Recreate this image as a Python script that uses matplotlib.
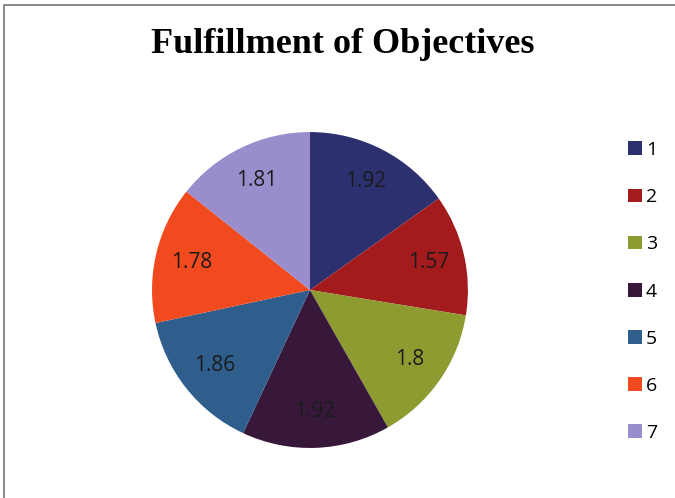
import matplotlib.pyplot as plt
from matplotlib.patches import Rectangle

# valores de cada objetivo
labels = ['1', '2', '3', '4', '5', '6', '7']
values = [1.92, 1.57, 1.8, 1.92, 1.86, 1.78, 1.81]
value_text = ['1.92', '1.57', '1.8', '1.92', '1.86', '1.78', '1.81']
colors = ['#2c306f', '#a41b1e', '#8d9b30', '#37183a', '#2f5e8d', '#f04a1e', '#9a8dcb']

fig = plt.figure(figsize=(6.75, 4.98), dpi=100)

# marco exterior del gráfico
fig.patches.append(Rectangle((0.006, -0.01), 1.2, 1.0, transform=fig.transFigure,
                             fill=False, edgecolor='#777777', lw=1.2))

fig.text(0.508, 0.91, 'Fulfillment of Objectives', ha='center', va='center',
         fontsize=26, fontweight='bold', family='Liberation Serif')

ax = fig.add_axes([0.2252, 0.1004, 0.468, 0.6345])
wedges, texts = ax.pie(values, colors=colors, startangle=90, counterclock=False,
                       labels=value_text, labeldistance=0.77,
                       wedgeprops=dict(linewidth=0),
                       textprops=dict(fontsize=15, color='#1a1a1a', family='Open Sans'))
for t in texts:
    t.set_ha('center')
    t.set_va('center')
ax.set_xlim(-1, 1)
ax.set_ylim(-1, 1)
ax.set_aspect('equal')

fig.legend(wedges, labels, loc='upper left', bbox_to_anchor=(0.905, 0.752),
           frameon=False, handlelength=0.7, handleheight=0.7, handletextpad=0.2,
           labelspacing=1.5, prop=dict(family='Open Sans', size=14))

fig.savefig('out.png', dpi=100)
